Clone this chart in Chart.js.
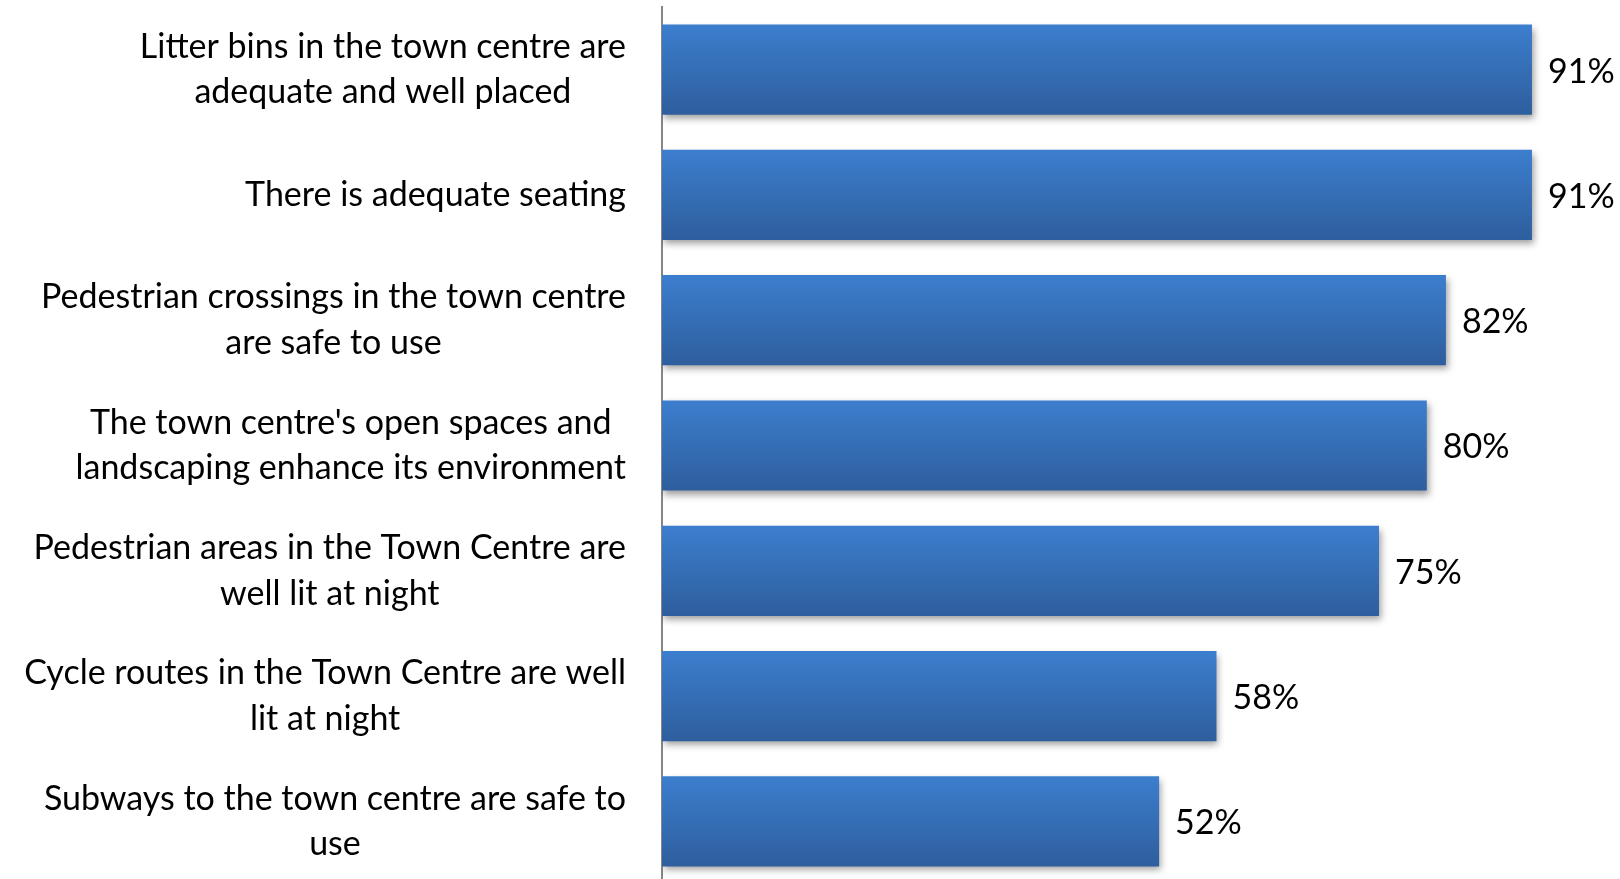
<!DOCTYPE html>
<html>
<head>
<meta charset="utf-8">
<script src="https://cdn.jsdelivr.net/npm/chart.js@4/dist/chart.umd.min.js"></script>
<style>
  html, body { margin: 0; padding: 0; background: #ffffff; overflow: hidden; }
  #wrap { position: relative; width: 1620px; height: 886px; }
</style>
</head>
<body>
<div id="wrap"><canvas id="c" width="1620" height="886"></canvas></div>
<script>
const categories = [
  ["Litter bins in the town centre are", "adequate and well placed"],
  ["There is adequate seating"],
  ["Pedestrian crossings in the town centre", "are safe to use"],
  ["The town centre's open spaces and", "landscaping enhance its environment"],
  ["Pedestrian areas in the Town Centre are", "well lit at night"],
  ["Cycle routes in the Town Centre are well", "lit at night"],
  ["Subways to the town centre are safe to", "use"]
];
const values = [91, 91, 82, 80, 75, 58, 52];
const valueLabels = ["91%", "91%", "82%", "80%", "75%", "58%", "52%"];

const FONT = '"Lato", "Open Sans", sans-serif';
const LABEL_SIZE = 34;
const LINE_H = 45.5;
const BAR_PCT = 0.72;

const labelPlugin = {
  id: 'labels',
  beforeDatasetsDraw(chart) {
    const ctx = chart.ctx;
    ctx.save();
    ctx.shadowColor = 'rgba(0,0,0,0.38)';
    ctx.shadowBlur = 7;
    ctx.shadowOffsetX = 2;
    ctx.shadowOffsetY = 4;
  },
  afterDatasetsDraw(chart) {
    chart.ctx.restore();
  },
  afterDraw(chart) {
    const ctx = chart.ctx;
    const yScale = chart.scales.y;
    const meta = chart.getDatasetMeta(0);
    ctx.save();
    ctx.fillStyle = '#000000';
    ctx.font = LABEL_SIZE + 'px ' + FONT;
    ctx.textBaseline = 'middle';
    const rightX = 626;
    categories.forEach((lines, i) => {
      const cy = yScale.getPixelForTick(i);
      const widths = lines.map(l => ctx.measureText(l).width);
      const blockW = Math.max(...widths);
      const cx = rightX - blockW / 2;
      ctx.textAlign = 'center';
      const n = lines.length;
      lines.forEach((l, j) => {
        const y = cy + (j - (n - 1) / 2) * LINE_H;
        ctx.fillText(l, cx, y);
      });
    });
    ctx.textAlign = 'left';
    meta.data.forEach((bar, i) => {
      ctx.fillText(valueLabels[i], bar.x + 16, bar.y + 2);
    });
    ctx.restore();
  }
};

const ctx = document.getElementById('c').getContext('2d');
new Chart(ctx, {
  type: 'bar',
  data: {
    labels: categories,
    datasets: [{
      data: values,
      backgroundColor: (c) => {
        const chart = c.chart;
        const yScale = chart.scales && chart.scales.y;
        if (!chart.chartArea || !yScale || c.dataIndex === undefined) return '#3569B5';
        const center = yScale.getPixelForValue(c.dataIndex);
        const h = (chart.chartArea.bottom - chart.chartArea.top) / categories.length * BAR_PCT;
        const top = center - h / 2;
        if (!isFinite(top) || !isFinite(h)) return '#3569B5';
        const g = chart.ctx.createLinearGradient(0, top, 0, top + h);
        g.addColorStop(0, '#3C7ECE');
        g.addColorStop(1, '#2E5E9D');
        return g;
      },
      borderWidth: 0,
      barPercentage: BAR_PCT,
      categoryPercentage: 1.0
    }]
  },
  options: {
    indexAxis: 'y',
    responsive: false,
    animation: false,
    devicePixelRatio: 1,
    layout: { padding: { top: 7, bottom: 2, left: 0, right: 2 } },
    plugins: { legend: { display: false }, tooltip: { enabled: false } },
    scales: {
      x: {
        min: 0, max: 100,
        display: false
      },
      y: {
        afterFit: (s) => { s.width = 662; },
        grid: { display: false },
        border: { display: true, color: '#868686', width: 2 },
        ticks: { display: false }
      }
    }
  },
  plugins: [labelPlugin]
});
</script>
</body>
</html>
